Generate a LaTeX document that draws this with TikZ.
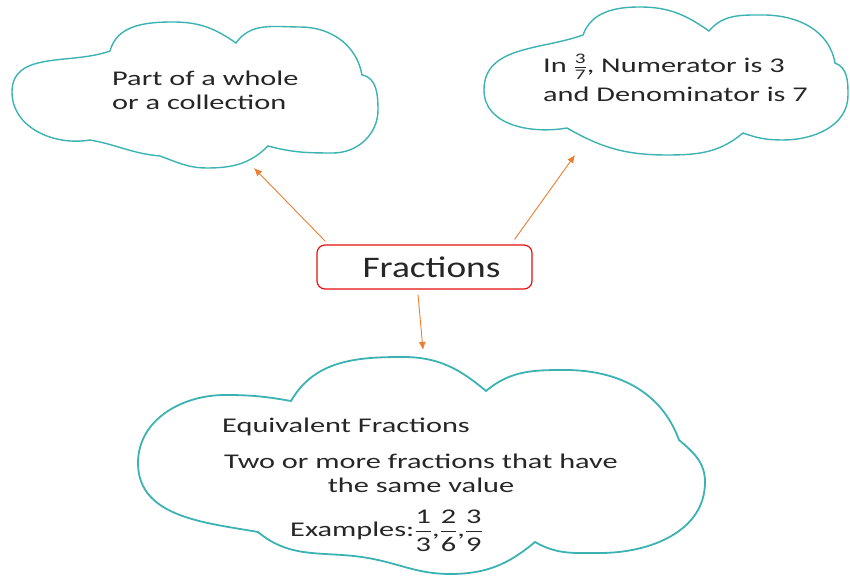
\documentclass[tikz,border=0pt]{standalone}
\usepackage{amsmath}
\usepackage{fontspec}
\setmainfont{Carlito}[FakeStretch=1.45]
\newfontfamily\boxfont{Carlito}[FakeStretch=1.25]
\usepackage{tikz}
\usetikzlibrary{arrows.meta, positioning}

\definecolor{cloudteal}{RGB}{60,178,178}
\definecolor{arrorange}{RGB}{237,125,49}
\definecolor{boxred}{RGB}{232,16,16}

\begin{document}
\begin{tikzpicture}[x=1bp, y=1bp, >={Latex[length=8bp,width=7bp]},
    cloudline/.style={cloudteal, line width=1.4bp},
    txt/.style={font=\fontsize{21}{25}\selectfont, text=black!85, inner sep=0pt},
    arr/.style={->, arrorange, line width=0.9bp}]
    \useasboundingbox (0,0) rectangle (850,576);

    % 1. Ba đám mây
    \draw[cloudline] (12,484) to[out=90,in=200] (110,525)
        to[out=75,in=180] (173,554) to[out=0,in=145] (236,533)
        to[out=55,in=180] (300,549) to[out=0,in=100] (362,501)
        to[out=-10,in=90] (378,466) to[out=-90,in=0] (333,423)
        to[out=180,in=-15] (268,430) to[out=-135,in=0] (207,408)
        to[out=180,in=-20] (160,420) to[out=175,in=-10] (90,436)
        to[out=190,in=-90] (12,484);

    \draw[cloudline] (484,486) to[out=90,in=200] (583,541)
        to[out=70,in=180] (640,569) to[out=0,in=145] (709,545)
        to[out=50,in=180] (763,561) to[out=0,in=100] (835,513)
        to[out=-20,in=90] (848,481) to[out=-90,in=0] (783,436)
        to[out=180,in=-20] (743,443) to[out=-140,in=0] (667,421)
        to[out=180,in=-30] (567,448) to[out=-170,in=-90] (484,486);

    \draw[cloudline, line width=1.8bp] (138,113) to[out=90,in=180] (225,181)
        to[out=0,in=170] (291,175) to[out=60,in=180] (403,219)
        to[out=0,in=140] (486,185) to[out=40,in=180] (565,206)
        to[out=0,in=110] (679,136) to[out=-40,in=90] (705,94)
        to[out=-90,in=0] (600,23) to[out=180,in=-30] (535,34)
        to[out=-140,in=0] (450,2) to[out=180,in=-10] (368,18)
        to[out=170,in=-40] (258,44) to[out=170,in=-90] (138,113);

    % 2. Nội dung trong các đám mây
    \node[txt, anchor=base west, align=left] (whole) at (112,466)
        {Part of a whole\\or a collection};
    \node[txt, anchor=base west, align=left] (parts) at (543,474)
        {In $\frac{\text{3}}{\text{7}}$, Numerator is 3\\[5bp]and Denominator is 7};
    \node[txt, anchor=base west] (equiv) at (222,143) {Equivalent Fractions};
    \node[txt, anchor=base, align=center] (defn) at (421,83)
        {Two or more fractions that have\\the same value};
    \node[txt, anchor=base west] (ex) at (290,39)
        {Examples:$\dfrac{\text{1}}{\text{3}}\text{,}\dfrac{\text{2}}{\text{6}}\text{,}\dfrac{\text{3}}{\text{9}}$};

    % 3. Ô trung tâm và các mũi tên
    \node[draw=boxred, line width=1.2bp, rounded corners=8bp,
          minimum width=215bp, minimum height=44bp,
          font=\boxfont\fontsize{30}{32}\selectfont, text=black!85] (frac) at (424.5,309)
          {\hspace*{14bp}Fractions};

    \coordinate (tipL) at (254,408);
    \coordinate (tipR) at (575,421);
    \coordinate (tipB) at (423,226);
    \draw[arr] ([xshift=9bp, yshift=3bp]frac.north west) -- (tipL);
    \draw[arr] ([xshift=-18bp, yshift=5bp]frac.north east) -- (tipR);
    \draw[arr] ([xshift=-6.5bp, yshift=-5bp]frac.south) -- (tipB);
\end{tikzpicture}
\end{document}
